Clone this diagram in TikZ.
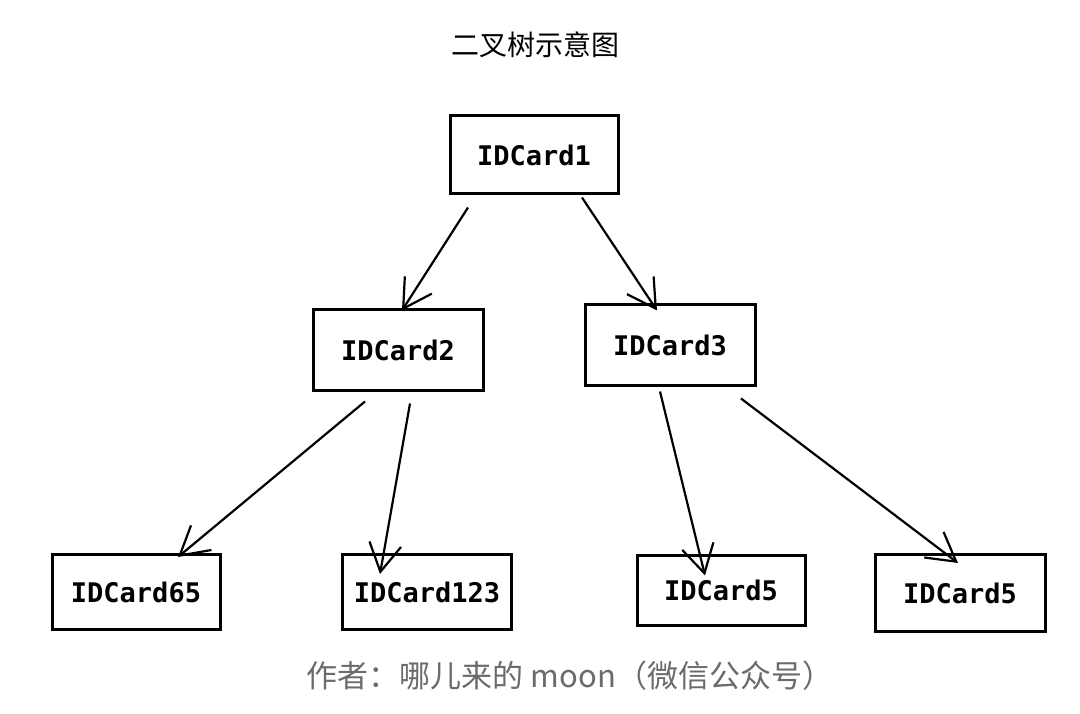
\documentclass[tikz,border=0pt]{standalone}
\usepackage{fontspec}
\usetikzlibrary{arrows.meta,calc}
\newfontfamily\cjk{Noto Sans CJK SC}
\newfontfamily\boxmono{DejaVu Sans Mono}
\definecolor{footgray}{HTML}{6B6B6B}
\begin{document}
\begin{tikzpicture}[x=1pt,y=-1pt,
  card/.style={draw=black,line width=3pt,minimum width=168pt,minimum height=78pt,inner sep=0pt,
    font=\boxmono\bfseries\fontsize{27}{30}\selectfont},
  arr/.style={draw=black,line width=2.2pt,-{Straight Barb[length=28pt,width=32pt,line width=2.2pt]}}]
\useasboundingbox (0,0) rectangle (1080,714);
\node[font=\cjk\fontsize{28}{32}\selectfont] (title) at (535,45) {二叉树示意图};
\node[card] (b1) at (534,155) {IDCard1};
\node[card,minimum width=170pt,minimum height=80pt] (b2) at (398,350) {IDCard2};
\node[card,minimum width=170pt,minimum height=80pt] (b3) at (670,345) {IDCard3};
\node[card,minimum height=75pt] (b65) at (136,592) {IDCard65};
\node[card,minimum width=169pt,minimum height=75pt] (b123) at (427,592) {IDCard123};
\node[card,minimum height=70pt] (b5a) at (721,590) {IDCard5};
\node[card,minimum width=170pt,minimum height=77pt] (b5b) at (960,593) {IDCard5};
\node[font=\cjk\fontsize{31}{34}\selectfont,text=footgray] (foot) at (570,676) {作者：哪儿来的 moon（微信公众号）};
\draw[arr] ([xshift=-66pt,yshift=-12pt]b1.south) -- ([xshift=4pt,yshift=-2pt]b2.north);
\draw[arr] ([xshift=48pt,yshift=-2pt]b1.south) -- ([xshift=-13pt,yshift=-7pt]b3.north);
\draw[arr] ([xshift=-33pt,yshift=-10pt]b2.south) -- ([xshift=42pt,yshift=-4pt]b65.north);
\draw[arr] ([xshift=12pt,yshift=-12pt]b2.south) -- ([xshift=-47pt,yshift=-21pt]b123.north);
\draw[arr] ([xshift=-10pt,yshift=-5pt]b3.south) -- ([xshift=-16pt,yshift=-22pt]b5a.north);
\draw[arr] ([xshift=71pt,yshift=-12pt]b3.south) -- ([xshift=-2pt,yshift=-10pt]b5b.north);
\end{tikzpicture}
\end{document}
